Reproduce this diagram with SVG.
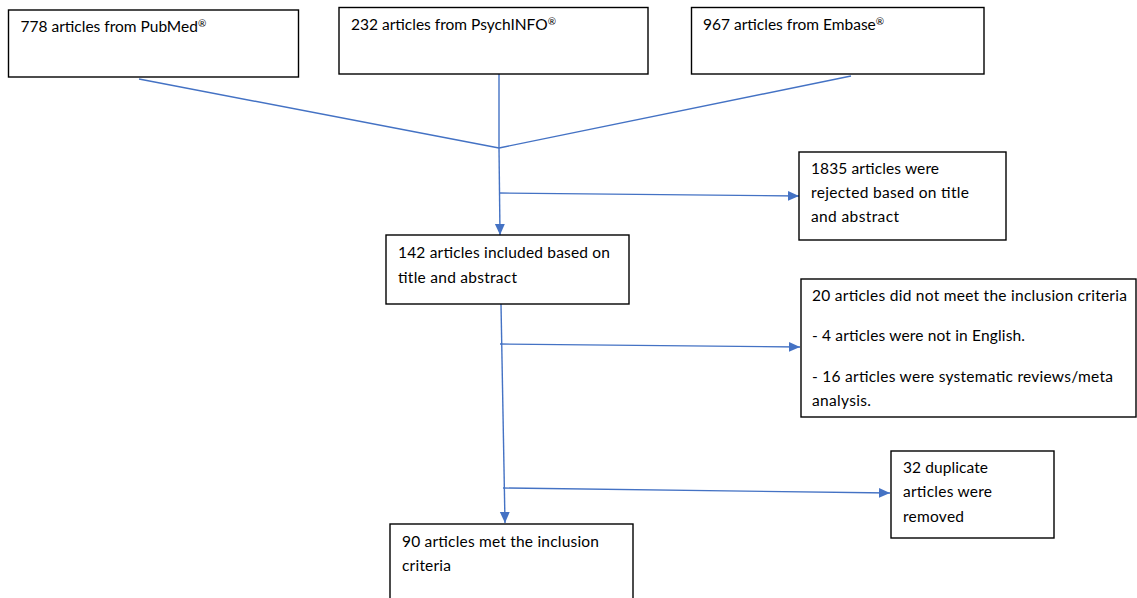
<svg xmlns="http://www.w3.org/2000/svg" width="1137" height="598" viewBox="0 0 1137 598">
<style>
.box{fill:#fff;stroke:#000;stroke-width:1.4}
.t{font-family:Lato,"Liberation Sans",Arial,sans-serif;font-size:15.5px;fill:#000}
.sup{font-size:10px}
.c{fill:none;stroke:#4472C4;stroke-width:1.4}
</style>
<defs>
<marker id="arr" markerUnits="userSpaceOnUse" markerWidth="11" markerHeight="11" viewBox="0 0 10 10" refX="10" refY="5" orient="auto">
<path d="M0,0.5 L10,5 L0,9.5 Z" fill="#4472C4"/>
</marker>
</defs>
<rect width="1137" height="598" fill="#fff"/>
<g id="connectors">
<line class="c" x1="139" y1="79" x2="499" y2="148"/>
<line class="c" x1="499" y1="74" x2="499" y2="148"/>
<line class="c" x1="851" y1="76" x2="499" y2="148"/>
<line class="c" x1="499" y1="148" x2="500" y2="235" marker-end="url(#arr)"/>
<line class="c" x1="499" y1="193" x2="799" y2="196" marker-end="url(#arr)"/>
<line class="c" x1="501" y1="304" x2="505" y2="523" marker-end="url(#arr)"/>
<line class="c" x1="500" y1="344" x2="800" y2="347" marker-end="url(#arr)"/>
<line class="c" x1="503" y1="488" x2="890" y2="493" marker-end="url(#arr)"/>
</g>
<g id="pubmed">
<rect class="box" x="8.5" y="10" width="290" height="67"/>
<text class="t" x="20.5" y="32">778 articles from PubMed<tspan class="sup" dy="-5">®</tspan></text>
</g>
<g id="psychinfo">
<rect class="box" x="339" y="7.5" width="309" height="66.5"/>
<text class="t" x="351" y="30">232 articles from PsychINFO<tspan class="sup" dy="-5">®</tspan></text>
</g>
<g id="embase">
<rect class="box" x="691.5" y="7.5" width="292.5" height="66.5"/>
<text class="t" x="703" y="30">967 articles from Embase<tspan class="sup" dy="-5">®</tspan></text>
</g>
<g id="rejected">
<rect class="box" x="799" y="152" width="207" height="88"/>
<text class="t" x="811" y="174" textLength="128">1835 articles were</text>
<text class="t" x="811" y="198" textLength="158">rejected based on title</text>
<text class="t" x="811" y="222" textLength="88">and abstract</text>
</g>
<g id="included">
<rect class="box" x="386" y="235" width="243" height="69"/>
<text class="t" x="398" y="258" textLength="212">142 articles included based on</text>
<text class="t" x="398" y="283" textLength="119">title and abstract</text>
</g>
<g id="excluded">
<rect class="box" x="801" y="279" width="335" height="138"/>
<text class="t" x="812" y="301" textLength="315">20 articles did not meet the inclusion criteria</text>
<text class="t" x="812" y="341" textLength="213">- 4 articles were not in English.</text>
<text class="t" x="812" y="382" textLength="301">- 16 articles were systematic reviews/meta</text>
<text class="t" x="812" y="406" textLength="59">analysis.</text>
</g>
<g id="duplicates">
<rect class="box" x="891" y="451" width="163" height="87"/>
<text class="t" x="903" y="473" textLength="85">32 duplicate</text>
<text class="t" x="903" y="497" textLength="89">articles were</text>
<text class="t" x="903" y="522" textLength="61">removed</text>
</g>
<g id="final">
<rect class="box" x="390" y="524" width="243" height="90"/>
<text class="t" x="402" y="547" textLength="197">90 articles met the inclusion</text>
<text class="t" x="402" y="571" textLength="49">criteria</text>
</g>
</svg>
